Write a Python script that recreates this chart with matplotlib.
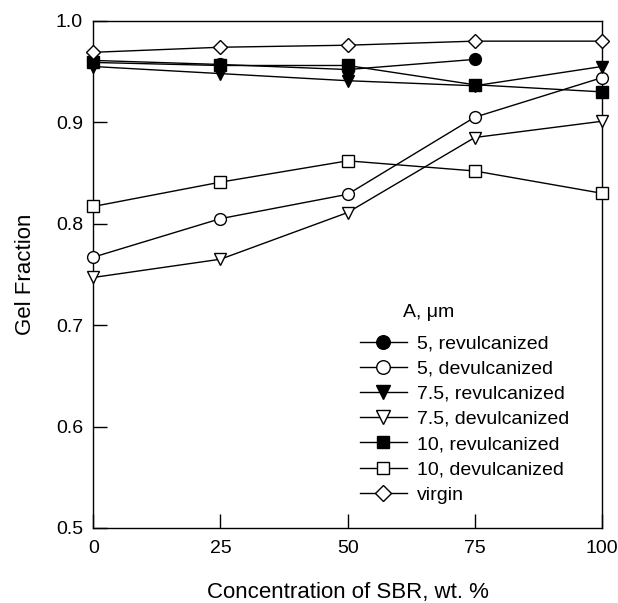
import numpy as np
import matplotlib.pyplot as plt

plt.rcParams['font.family'] = ['Liberation Sans', 'DejaVu Sans']

sbr = [0, 25, 50, 75, 100]
rev5 = [0.961, 0.957, 0.952, 0.962]
dev5 = [0.767, 0.805, 0.829, 0.905, 0.944]
rev75 = [0.955, 0.948, 0.941, 0.936, 0.955]
dev75 = [0.747, 0.765, 0.811, 0.885, 0.901]
rev10 = [0.959, 0.956, 0.956, 0.937, 0.930]
dev10 = [0.817, 0.841, 0.862, 0.852, 0.830]
virgin = [0.969, 0.974, 0.976, 0.980, 0.980]

series = [
    (sbr[:4], rev5, 'o', 'black', '5, revulcanized'),
    (sbr, dev5, 'o', 'white', '5, devulcanized'),
    (sbr, rev75, 'v', 'black', '7.5, revulcanized'),
    (sbr, dev75, 'v', 'white', '7.5, devulcanized'),
    (sbr, rev10, 's', 'black', '10, revulcanized'),
    (sbr, dev10, 's', 'white', '10, devulcanized'),
    (sbr, virgin, 'D', 'white', 'virgin'),
]

fig = plt.figure(figsize=(6.18, 6.03), dpi=100)
ax = fig.add_axes([0.151, 0.1244, 0.823, 0.841])

for x, y, m, fc, lab in series:
    ms = {'D': 7, 's': 8, 'o': 8.5, 'v': 9}[m]
    ax.plot(x, y, color='black', lw=1, marker=m, ms=ms, mfc=fc, mec='black',
            mew=1, label=lab, clip_on=False, zorder=3)

ax.set_xlim(0, 100)
ax.set_ylim(0.5, 1.0)
ax.set_xticks(sbr)
ax.set_yticks([0.5, 0.6, 0.7, 0.8, 0.9, 1.0])
ax.set_yticklabels(['0.5', '0.6', '0.7', '0.8', '0.9', '1.0'])
ax.tick_params(direction='in', length=10, width=1, labelsize=14, pad=7.5)
ax.tick_params(axis='x', pad=9)
for s in ax.spines.values():
    s.set_linewidth(1)

ax.set_xlabel('Concentration of SBR, wt. %', fontsize=16, labelpad=18)
ax.set_ylabel('Gel Fraction', fontsize=16, labelpad=14)

# legend title sits over the labels, not over the handles
ax.text(60.9, 0.712, 'A, \u03bcm', fontsize=14, ha='left', va='center')
leg = ax.legend(loc='upper left', bbox_to_anchor=(0.524, 0.381), frameon=False,
                fontsize=14, handlelength=2.43, labelspacing=0.39,
                handletextpad=0.51, borderaxespad=0, borderpad=0,
                markerscale=1.15)

fig.savefig('out.png', dpi=100)
